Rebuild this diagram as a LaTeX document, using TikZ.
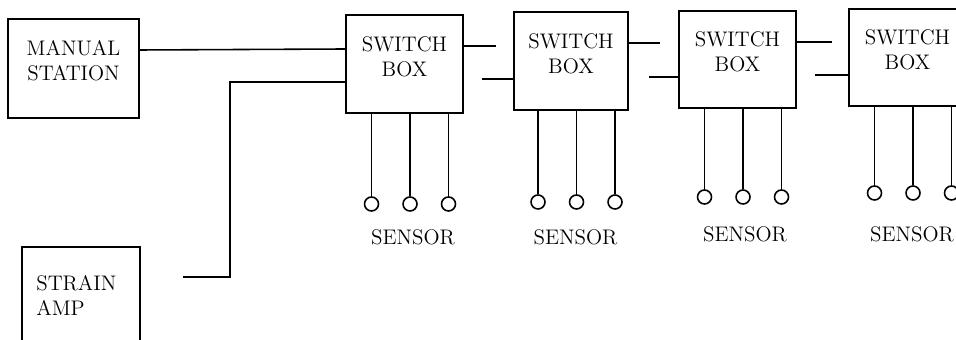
\documentclass[tikz,border=0pt]{standalone}
\usepackage{tikz}
\usetikzlibrary{positioning, fit}

\begin{document}
\begin{tikzpicture}[x=0.02cm, y=-0.02cm,
        box/.style={draw, line width=1pt, inner sep=0pt, align=center, font=\fontsize{12}{14}\selectfont},
        sensor/.style={draw, circle, line width=0.9pt, minimum size=0.28cm, inner sep=0pt},
        wire/.style={line width=0.9pt},
        lbl/.style={font=\fontsize{12}{14}\selectfont},
    ]
        \useasboundingbox (0,0) rectangle (956,340);
        \clip (0,0) rectangle (956,340);

        % control side
        \node[box, fit={(8,19) (139,118)}] (manual) {MANUAL\\STATION};
        \node[box, fit={(22,247) (140,400)}] (strain) {};
        \node[lbl, anchor=north west, align=left, inner sep=0pt] (strainlbl) at (36,275) {STRAIN\\AMP};

        % switch boxes
        \node[box, fit={(346,15) (463,113)}] (sw1) {SWITCH\\BOX};
        \node[box, fit={(514,12) (628,110)}] (sw2) {SWITCH\\BOX};
        \node[box, fit={(679,11) (796,108)}] (sw3) {SWITCH\\BOX};
        \node[box, fit={(849,9) (966,106)}] (sw4) {SWITCH\\BOX};

        % lines into the first switch box
        \coordinate (ampout) at (183,277);
        \coordinate (bend1) at (230,277);
        \coordinate (bend2) at (230,82);
        \draw[wire] (manual.east |- 0,50) -- (sw1.west |- 0,49);
        \draw[wire] (ampout) -- (bend1) -- (bend2) -- (sw1.west |- bend2);

        % stubs between switch boxes
        \coordinate (o1) at (496,46);
        \coordinate (i2) at (482,79);
        \coordinate (o2) at (660,43);
        \coordinate (i3) at (649,77);
        \coordinate (o3) at (832,42);
        \coordinate (i4) at (815,75);
        \draw[wire] (sw1.east |- o1) -- (o1);
        \draw[wire] (i2) -- (sw2.west |- i2);
        \draw[wire] (sw2.east |- o2) -- (o2);
        \draw[wire] (i3) -- (sw3.west |- i3);
        \draw[wire] (sw3.east |- o3) -- (o3);
        \draw[wire] (i4) -- (sw4.west |- i4);

        % sensors under each box
        \foreach \b/\cx/\cy/\lx/\ly in {1/404.5/204/413/237, 2/571/202/575.5/237, 3/737.5/197/745/234, 4/907.5/193/912/234} {
            \foreach \i/\dx in {1/-33, 2/5.5, 3/44} {
                \node[sensor] (s\b-\i) at ({\cx+(\dx)},\cy) {};
                \draw[wire] (s\b-\i.north) -- (s\b-\i.north |- sw\b.south);
            }
            \node[lbl] (lab\b) at (\lx,\ly) {SENSOR};
        }
    \end{tikzpicture}
\end{document}
